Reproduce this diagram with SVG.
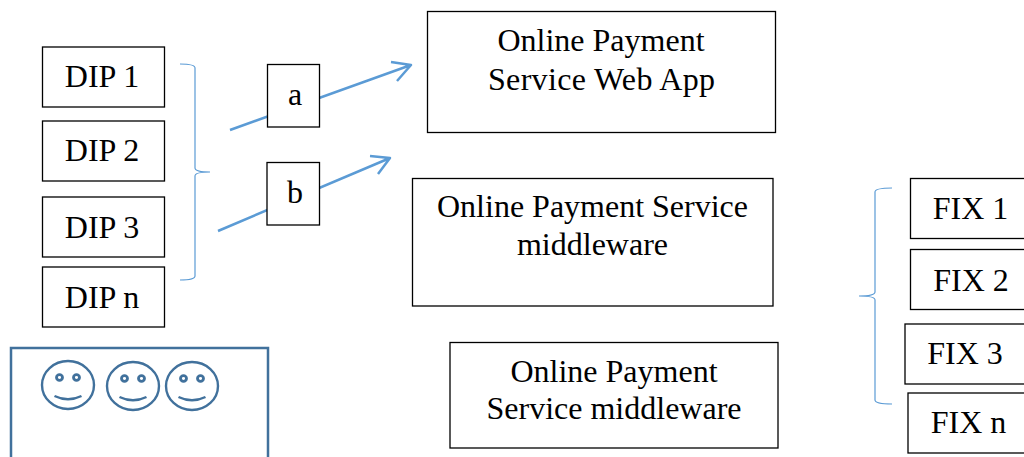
<svg xmlns="http://www.w3.org/2000/svg" width="1024" height="457" viewBox="0 0 1024 457">
<defs>
<g id="smiley"><ellipse cx="0" cy="0" rx="26" ry="24" fill="none" stroke="#41719c" stroke-width="2.400"/><ellipse cx="-8.500" cy="-7.500" rx="3" ry="2.800" fill="none" stroke="#41719c" stroke-width="2.800"/><ellipse cx="8.500" cy="-7.500" rx="3" ry="2.800" fill="none" stroke="#41719c" stroke-width="2.800"/><path d="M-13.500 11 Q0 17.500 13.500 11" fill="none" stroke="#41719c" stroke-width="2.400"/></g>
</defs>
<style>
.box{fill:#fff;stroke:#000;stroke-width:1.300}
.t{font-family:"Liberation Serif","Times New Roman",serif;font-size:32px;fill:#000;text-anchor:middle}
.c{fill:none;stroke:#5b9bd5;stroke-width:2.500;stroke-linejoin:round}
.br{fill:none;stroke:#5b9bd5;stroke-width:1.200}
</style>
<rect width="1024" height="457" fill="#fff"/>
<g id="connectors">
<path class="c" d="M230 130L411 65M391 62L411 65L397 81"/>
<path class="c" d="M218 231L390 158M370 156L390 158L378 174"/>
<path class="br" d="M180 64Q195 64 195 68V168Q195 172 210 172Q195 172 195 176V276Q195 280 180 280"/>
<path class="br" d="M892 188Q875 188 875 192V292Q875 296 859 296Q875 296 875 300V400Q875 404 892 404"/>
</g>
<g id="dip1"><rect class="box" x="42.500" y="47" width="122" height="60"/><text class="t" x="102" y="87">DIP 1</text></g>
<g id="dip2"><rect class="box" x="42.500" y="121" width="122" height="60"/><text class="t" x="102" y="161">DIP 2</text></g>
<g id="dip3"><rect class="box" x="42.500" y="197" width="122" height="60"/><text class="t" x="102" y="238">DIP 3</text></g>
<g id="dipn"><rect class="box" x="42.500" y="267" width="122" height="60"/><text class="t" x="102" y="308">DIP n</text></g>
<g id="a"><rect class="box" x="267.500" y="64.500" width="52" height="62.500"/><text class="t" x="295" y="105">a</text></g>
<g id="b"><rect class="box" x="267" y="162.500" width="52.500" height="62.500"/><text class="t" x="295" y="203">b</text></g>
<g id="web"><rect class="box" x="427.500" y="11.500" width="348" height="121"/><text class="t" x="601" y="51">Online Payment</text><text class="t" x="601.500" y="90" textLength="227">Service Web App</text></g>
<g id="mw1"><rect class="box" x="412.500" y="178.500" width="360.500" height="127.500"/><text class="t" x="592.500" y="217">Online Payment Service</text><text class="t" x="592.500" y="255">middleware</text></g>
<g id="mw2"><rect class="box" x="450" y="342.500" width="328" height="105.500"/><text class="t" x="614" y="382">Online Payment</text><text class="t" x="614" y="419">Service middleware</text></g>
<g id="fix1"><rect class="box" x="910.500" y="178.500" width="125" height="60"/><text class="t" x="970.500" y="219">FIX 1</text></g>
<g id="fix2"><rect class="box" x="910.500" y="249.500" width="125" height="60"/><text class="t" x="971" y="291">FIX 2</text></g>
<g id="fix3"><rect class="box" x="905" y="324" width="130" height="60"/><text class="t" x="965" y="364">FIX 3</text></g>
<g id="fixn"><rect class="box" x="908" y="393" width="127" height="60"/><text class="t" x="968.500" y="433">FIX n</text></g>
<g id="users"><path d="M11 457V348H268V457" fill="#fff" stroke="#41719c" stroke-width="2.500"/>
<use href="#smiley" x="68" y="385"/><use href="#smiley" x="133" y="386"/><use href="#smiley" x="192" y="386"/></g>
</svg>
